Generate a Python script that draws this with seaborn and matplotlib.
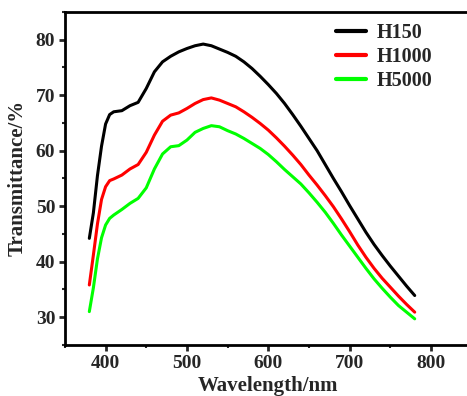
import numpy as np
import pandas as pd
import matplotlib
matplotlib.use("Agg")
import matplotlib.pyplot as plt
import seaborn as sns
from matplotlib.ticker import MultipleLocator

# wavelength grid (nm)
wavelength = [380, 385, 390, 395, 400, 405, 410, 420, 430, 440, 450, 460, 470, 480,
              490, 500, 510, 520, 530, 540, 550, 560, 570, 580, 590, 600, 610, 620,
              630, 640, 650, 660, 670, 680, 690, 700, 710, 720, 730, 740, 750, 760,
              770, 780]

h150 = [44.2, 48.8, 55.5, 60.8, 64.8, 66.5, 67.0, 67.2, 68.1, 68.7, 71.2, 74.2, 76.0, 77.0,
        77.8, 78.4, 78.9, 79.2, 78.9, 78.3, 77.7, 77.0, 76.0, 74.8, 73.4, 71.9, 70.3, 68.5,
        66.5, 64.4, 62.2, 60.0, 57.5, 55.0, 52.6, 50.1, 47.7, 45.3, 43.1, 41.1, 39.2, 37.4,
        35.6, 33.9]

h1000 = [35.8, 41.2, 46.8, 51.2, 53.5, 54.6, 54.9, 55.6, 56.7, 57.5, 59.7, 62.8, 65.3, 66.4,
         66.8, 67.6, 68.5, 69.2, 69.5, 69.1, 68.5, 67.9, 67.0, 66.0, 64.9, 63.7, 62.3, 60.8,
         59.2, 57.5, 55.6, 53.8, 51.9, 49.9, 47.7, 45.4, 43.0, 40.8, 38.8, 37.0, 35.4, 33.8,
         32.3, 30.9]

h5000 = [31.0, 35.3, 40.5, 44.3, 46.6, 47.8, 48.4, 49.4, 50.5, 51.4, 53.3, 56.7, 59.4, 60.7,
         60.9, 61.9, 63.3, 64.0, 64.5, 64.3, 63.6, 63.0, 62.2, 61.3, 60.4, 59.3, 58.0, 56.6,
         55.3, 54.0, 52.4, 50.7, 48.9, 46.9, 44.8, 42.8, 40.8, 38.8, 36.9, 35.2, 33.6, 32.1,
         30.9, 29.7]

series_names = ["H150", "H1000", "H5000"]
colors = ["#000000", "#ff0000", "#00ff00"]

df = pd.DataFrame({
    "Wavelength": wavelength * 3,
    "Transmittance": h150 + h1000 + h5000,
    "Sample": sum([[n] * len(wavelength) for n in series_names], []),
})

sns.set_style("ticks")
plt.rcParams['font.family'] = ['Liberation Serif', 'DejaVu Serif']
plt.rcParams['font.weight'] = 'bold'

fig = plt.figure(figsize=(4.67, 3.96), dpi=100)
ax = fig.add_axes([0.139, 0.129, 0.871, 0.841])

sns.lineplot(data=df, x="Wavelength", y="Transmittance", hue="Sample",
             hue_order=series_names, palette=colors, linewidth=2.2, ax=ax)

ax.set_xlim(350, 850)
ax.set_ylim(25, 85)
ax.xaxis.set_major_locator(MultipleLocator(100))
ax.xaxis.set_minor_locator(MultipleLocator(50))
ax.yaxis.set_major_locator(MultipleLocator(10))
ax.yaxis.set_minor_locator(MultipleLocator(5))

for side in ["left", "bottom", "top", "right"]:
    ax.spines[side].set_linewidth(2)
    ax.spines[side].set_color("black")

ax.tick_params(axis="both", which="major", direction="out", length=4, width=2,
               labelsize=14, top=False, right=False, pad=3)
ax.tick_params(axis="both", which="minor", direction="out", length=2.5, width=1.5,
               top=False, right=False)
for lab in ax.get_xticklabels() + ax.get_yticklabels():
    lab.set_fontweight("bold")

ax.set_xlabel("Wavelength/nm", fontsize=15, fontweight="bold", labelpad=3)
ax.set_ylabel("Transmittance/%", fontsize=15, fontweight="bold", labelpad=6)

leg = ax.legend(loc="upper left", bbox_to_anchor=(0.622, 1.02), frameon=False,
                prop={"size": 14.5, "weight": "bold"}, handlelength=1.5,
                handletextpad=0.5, labelspacing=0.2)
for line in leg.get_lines():
    line.set_linewidth(3)

fig.savefig("out.png", dpi=100)
plt.close()
